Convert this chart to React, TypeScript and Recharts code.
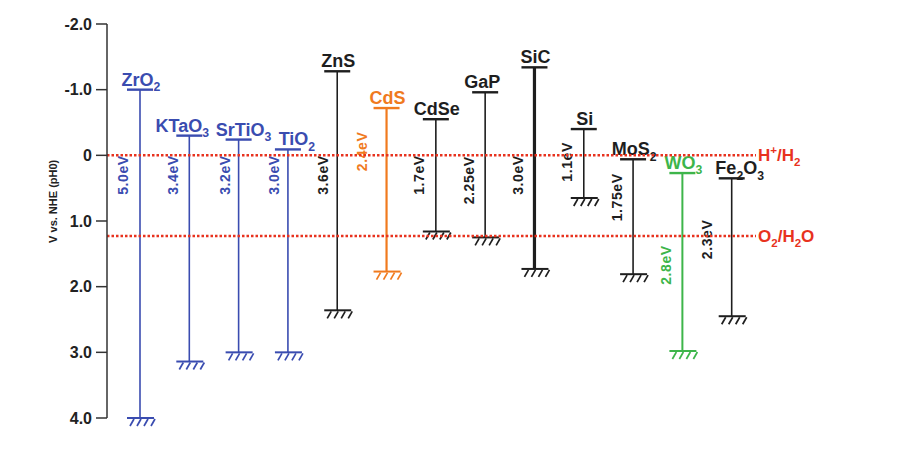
import React from 'react';
import { ComposedChart, Bar, XAxis, YAxis, ReferenceLine } from 'recharts';

// ---- data ----
const materials = ['ZrO_2', 'KTaO_3', 'SrTiO_3', 'TiO_2', 'ZnS', 'CdS', 'CdSe', 'GaP', 'SiC', 'Si', 'MoS_2', 'WO_3', 'Fe_2O_3'];
const conductionBand = [-1.0, -0.3, -0.24, -0.09, -1.28, -0.72, -0.55, -0.96, -1.34, -0.4, 0.06, 0.27, 0.35];
const valenceBand = [4.0, 3.14, 3.0, 3.0, 2.36, 1.77, 1.16, 1.25, 1.73, 0.65, 1.81, 2.98, 2.45];
const bandGapLabels = ['5.0eV', '3.4eV', '3.2eV', '3.0eV', '3.6eV', '2.4eV', '1.7eV', '2.25eV', '3.0eV', '1.1eV', '1.75eV', '2.8eV', '2.3eV'];
const gapLabelCenterV = [0.3, 0.3, 0.3, 0.3, 0.3, -0.06, 0.3, 0.38, 0.3, 0.1, 0.64, 1.67, 1.28];
const yTicks = [-2, -1, 0, 1, 2, 3, 4];
const H2_LEVEL = 0;
const O2_LEVEL = 1.23;

// ---- styles ----
const FONT = '"Liberation Sans", Arial, Helvetica, sans-serif';
const BLUE = '#3a4cb0';
const ORANGE = '#f07a1e';
const GREEN = '#3db54a';
const BLACK = '#1e1e1e';
const RED = '#e8321e';
const colorOf: Record<string, string> = {
  ZrO_2: BLUE, KTaO_3: BLUE, SrTiO_3: BLUE, TiO_2: BLUE, CdS: ORANGE, WO_3: GREEN,
};
const strokeOf: Record<string, number> = { SiC: 3.2, CdS: 2.2, WO_3: 2 };
const gapDxOf: Record<string, number> = { CdS: -25, Fe_2O_3: -25, ZnS: -14, SrTiO_3: -14, TiO_2: -14 };
const nameDxOf: Record<string, number> = { KTaO_3: -7, SrTiO_3: 5, TiO_2: 9, GaP: -3, Fe_2O_3: 8 };

const data = materials.map((name, i) => ({
  name,
  cb: conductionBand[i],
  vb: valenceBand[i],
  gap: bandGapLabels[i],
  gapAt: gapLabelCenterV[i],
}));

function formula(s: string, fontSize: number) {
  const parts: React.ReactNode[] = [];
  const re = /([_^])([^_^\/])|([^_^]+)/g;
  let m: RegExpExecArray | null;
  let cur = 0;
  let k = 0;
  while ((m = re.exec(s))) {
    if (m[3]) {
      parts.push(<tspan key={k++} dy={-cur} fontSize={fontSize}>{m[3]}</tspan>);
      cur = 0;
    } else {
      const t = m[1] === '_' ? fontSize * 0.3 : -fontSize * 0.42;
      parts.push(<tspan key={k++} dy={t - cur} fontSize={fontSize * 0.68}>{m[2]}</tspan>);
      cur = t;
    }
  }
  return parts;
}

const BandShape = (props: any) => {
  const { x, y, width, height, payload } = props;
  if (x == null || y == null) return null;
  const top = Math.min(y, y + height);
  const bottom = Math.max(y, y + height);
  const cx = x + width / 2;
  const name = payload.name as string;
  const col = colorOf[name] ?? BLACK;
  const sw = strokeOf[name] ?? 1.6;
  const labelY = top + ((payload.gapAt - payload.cb) / (payload.vb - payload.cb)) * (bottom - top);
  const lx = cx + (gapDxOf[name] ?? -16.5);
  const nx = cx + (nameDxOf[name] ?? 1);
  return (
    <g>
      <line x1={cx} x2={cx} y1={top} y2={bottom} stroke={col} strokeWidth={sw} />
      <line x1={cx - 13} x2={cx + 13} y1={top} y2={top} stroke={col} strokeWidth={2.4} />
      <text x={nx} y={top - 4} textAnchor="middle" fill={col} fontSize={18} fontWeight="bold" fontFamily={FONT}>
        {formula(name, 18)}
      </text>
      <line x1={cx - 13} x2={cx + 14} y1={bottom} y2={bottom} stroke={col} strokeWidth={2} />
      {[0, 1, 2, 3].map((k) => (
        <line key={k} x1={cx - 6 + k * 7} y1={bottom + 1} x2={cx - 10 + k * 7} y2={bottom + 8} stroke={col} strokeWidth={1.7} />
      ))}
      <text
        x={lx}
        y={labelY}
        transform={`rotate(-90 ${lx} ${labelY})`}
        textAnchor="middle"
        dominantBaseline="central"
        fill={col}
        fontSize={14}
        fontWeight="bold"
        letterSpacing={0.6}
        fontFamily={FONT}
      >
        {payload.gap}
      </text>
    </g>
  );
};

const refLabel = (text: string) => (p: any) => {
  const vb = p.viewBox || {};
  const x = (vb.x ?? 0) + (vb.width ?? 0) + 2;
  const y = (vb.y ?? 0) + 6;
  return (
    <text x={x} y={y} fill={RED} fontSize={17} fontWeight="bold" fontFamily={FONT}>
      {formula(text, 17)}
    </text>
  );
};

const yLabel = (p: any) => {
  const vb = p.viewBox || {};
  const x = (vb.x ?? 0) + 53;
  const y = (vb.y ?? 0) + (vb.height ?? 0) * 0.45;
  return (
    <text x={x} y={y} transform={`rotate(-90 ${x} ${y})`} textAnchor="middle" dominantBaseline="central" fill="#222" fontSize={11} fontWeight="bold" fontFamily={FONT}>
      V vs. NHE (pH0)
    </text>
  );
};

export default function App() {
  return (
    <div style={{ position: 'absolute', left: 0, top: 0, width: 900, height: 451, background: '#fff' }}>
      <ComposedChart width={900} height={451} data={data} margin={{ top: 24, right: 144, bottom: 33, left: 0 }}>
        <XAxis dataKey="name" type="category" hide padding={{ left: 8, right: 0 }} />
        <YAxis
          type="number"
          domain={[-2, 4]}
          reversed
          ticks={yTicks}
          interval={0}
          width={107}
          tickSize={11}
          tickMargin={4}
          tickFormatter={(v: number) => (v === 0 ? '0' : v.toFixed(1))}
          axisLine={{ stroke: '#333', strokeWidth: 1.5 }}
          tickLine={{ stroke: '#333', strokeWidth: 1.5 }}
          tick={{ fill: '#222', fontSize: 16, fontWeight: 'bold', fontFamily: FONT }}
          label={{ content: yLabel }}
        />
        <Bar dataKey={(d: any) => [d.cb, d.vb]} barSize={30} shape={BandShape} isAnimationActive={false} />
        <ReferenceLine y={H2_LEVEL} stroke={RED} strokeWidth={2.5} strokeDasharray="2.5 2" label={refLabel('H^+/H_2')} />
        <ReferenceLine y={O2_LEVEL} stroke={RED} strokeWidth={2.5} strokeDasharray="2.5 2" label={refLabel('O_2/H_2O')} />
      </ComposedChart>
    </div>
  );
}
